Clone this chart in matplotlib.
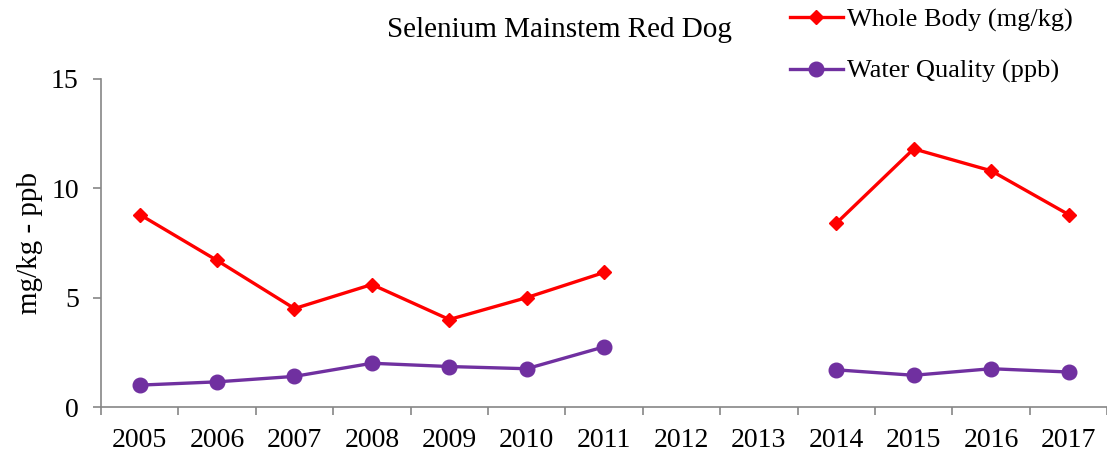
import numpy as np
import matplotlib.pyplot as plt

plt.rcParams['font.family'] = ['Liberation Serif', 'DejaVu Serif']

years = ['2005', '2006', '2007', '2008', '2009', '2010', '2011',
         '2012', '2013', '2014', '2015', '2016', '2017']
whole_body = [8.8, 6.7, 4.5, 5.6, 4.0, 5.0, 6.15, np.nan, np.nan, 8.4, 11.8, 10.8, 8.8]
water_quality = [1.0, 1.15, 1.4, 2.0, 1.85, 1.75, 2.75, np.nan, np.nan, 1.7, 1.45, 1.75, 1.6]

fig = plt.figure(figsize=(11.07, 4.57), dpi=100)
ax = fig.add_axes([0.0912, 0.1094, 0.909, 0.718])

x = np.arange(len(years))
ax.plot(x, whole_body, color='#ff0000', lw=2.4, marker='D', ms=7,
        label='Whole Body (mg/kg)')
ax.plot(x, water_quality, color='#7030a0', lw=2.4, marker='o', ms=10.5,
        label='Water Quality (ppb)')

ax.set_xlim(-0.5, len(years) - 0.5)
ax.set_ylim(0, 15)
ax.set_yticks([0, 5, 10, 15])
ax.set_xticks(x)
ax.set_xticklabels(years)
ax.set_xticks(np.arange(-0.5, len(years)), minor=True)
ax.tick_params(axis='x', which='major', length=0, labelsize=20, pad=15)
ax.tick_params(axis='x', which='minor', length=6, color='#868686', width=1.2)
ax.tick_params(axis='y', length=6, color='#868686', width=1.2, labelsize=20, pad=10)

for side in ['top', 'right']:
    ax.spines[side].set_visible(False)
for side in ['left', 'bottom']:
    ax.spines[side].set_color('#868686')
    ax.spines[side].set_linewidth(1.2)

ax.set_ylabel('mg/kg - ppb', fontsize=21, labelpad=6)
fig.text(0.505, 0.935, 'Selenium Mainstem Red Dog', ha='center', va='center', fontsize=21)

fig.legend(loc='upper left', bbox_to_anchor=(0.692, 1.035), frameon=False,
           fontsize=19, handlelength=2.0, handletextpad=0.15, labelspacing=1.05)

fig.savefig('out.png', dpi=100)
